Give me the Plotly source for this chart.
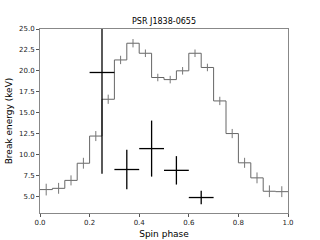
import plotly.graph_objects as go

# Pulse-profile step histogram (scaled), 20 phase bins
bin_edges = [i * 0.05 for i in range(21)]
bin_centers = [0.025 + i * 0.05 for i in range(20)]
profile = [5.8, 5.95, 6.9, 8.95, 12.2, 16.6, 21.3, 23.3, 22.1, 19.2,
           18.95, 20.0, 22.1, 20.4, 16.4, 12.5, 9.0, 7.2, 5.6, 5.55]
profile_err = [0.7, 0.65, 0.6, 0.65, 0.6, 0.55, 0.5, 0.5, 0.45, 0.45,
               0.45, 0.45, 0.45, 0.45, 0.5, 0.55, 0.6, 0.65, 0.7, 0.65]

# Break energy measurements
phase = [0.25, 0.35, 0.45, 0.55, 0.65]
phase_err = [0.05, 0.05, 0.05, 0.05, 0.05]
break_energy = [19.8, 8.2, 10.7, 8.1, 4.85]
break_err = [12.1, 2.35, 3.35, 1.7, 0.8]

fig = go.Figure()

fig.add_trace(go.Scatter(
    x=bin_edges, y=profile + [profile[-1]], mode="lines",
    line=dict(shape="hv", color="#666666", width=1),
    hoverinfo="skip", showlegend=False))

fig.add_trace(go.Scatter(
    x=bin_centers, y=profile, mode="markers",
    marker=dict(size=0.1, color="rgba(0,0,0,0)"),
    error_y=dict(type="data", array=profile_err, color="#777777",
                 thickness=1, width=0),
    showlegend=False))

fig.add_trace(go.Scatter(
    x=phase, y=break_energy, mode="markers",
    marker=dict(size=0.1, color="rgba(0,0,0,0)"),
    error_x=dict(type="data", array=phase_err, color="black",
                 thickness=1.3, width=0),
    error_y=dict(type="data", array=break_err, color="black",
                 thickness=1.3, width=0),
    showlegend=False))

axis_common = dict(
    showline=True, linecolor="#888888", linewidth=1, mirror=True,
    ticks="outside", ticklen=3, tickcolor="#555555", tickwidth=1,
    showgrid=False, zeroline=False, automargin=False,
    tickfont=dict(family="DejaVu Sans", size=7, color="#222222"),
)

fig.update_layout(
    width=320, height=240,
    margin=dict(l=40, r=32, t=29, b=27),
    paper_bgcolor="white", plot_bgcolor="white",
    title=dict(text="PSR J1838-0655", x=0.5125, xanchor="center",
               y=1 - 21.5 / 240, yanchor="middle",
               font=dict(family="DejaVu Sans", size=8, color="black")),
    xaxis=dict(range=[0, 1], tickvals=[0, 0.2, 0.4, 0.6, 0.8, 1.0],
               ticktext=["0.0", "0.2", "0.4", "0.6", "0.8", "1.0"],
               title=dict(text="Spin phase", standoff=4,
                          font=dict(family="DejaVu Sans", size=9, color="black")),
               **axis_common),
    yaxis=dict(range=[3.0, 25.0],
               tickvals=[5, 7.5, 10, 12.5, 15, 17.5, 20, 22.5, 25],
               ticktext=["5.0", "7.5", "10.0", "12.5", "15.0", "17.5",
                         "20.0", "22.5", "25.0"],
               title=dict(text="Break energy (keV)", standoff=4,
                          font=dict(family="DejaVu Sans", size=9, color="black")),
               **axis_common),
)

fig.write_html("out.html", post_script="document.body.style.margin='0';",
               config={"displayModeBar": False})
